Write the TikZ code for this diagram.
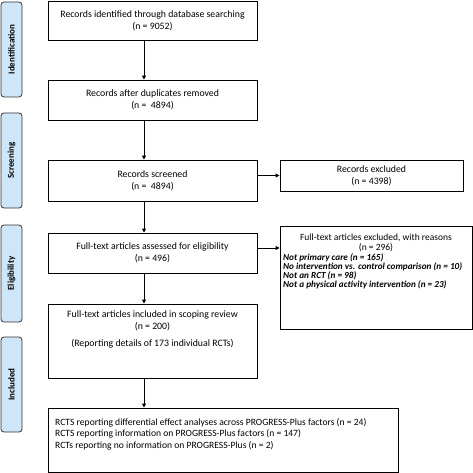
\documentclass[tikz,border=0pt]{standalone}
\usepackage{fontspec}
\setmainfont{Carlito}
\usepackage{tikz}
\usetikzlibrary{arrows.meta}
\pgfdeclarelayer{edgelayer}
\pgfdeclarelayer{nodelayer}
\pgfsetlayers{edgelayer,nodelayer,main}
\definecolor{phasefill}{HTML}{CFE6F8}
\tikzstyle{box}=[rectangle, fill=white, draw=black, line width=0.9pt, inner sep=0pt, align=center, font=\fontsize{9.8}{12}\selectfont]
\tikzstyle{phase}=[rectangle, rounded corners=3pt, fill=phasefill, draw=black!80, line width=0.8pt, rotate=90, minimum height=21pt, inner sep=0pt, font=\bfseries\fontsize{9}{10}\selectfont]
\tikzstyle{plaintext}=[inner sep=0pt, font=\fontsize{9}{12}\selectfont]
\tikzstyle{flow}=[draw=black, line width=0.9pt, -{Triangle[length=4pt,width=4pt]}]

\begin{document}
\begin{tikzpicture}[x=1pt, y=-1pt]
	\useasboundingbox (0,0) rectangle (473,473);
	\begin{pgfonlayer}{nodelayer}

	%phases
		\node [style=phase, minimum width=95pt] (p1) at (11.5,49.5) {Identification};
		\node [style=phase, minimum width=95pt] (p2) at (11.5,160.5) {Screening};
		\node [style=phase, minimum width=97pt] (p3) at (11.5,273.5) {Eligibility};
		\node [style=phase, minimum width=95pt] (p4) at (11.5,384.5) {Included};

	%main column
		\node [style=box, minimum width=209pt, minimum height=39pt] (b1) at (152.5,20.5) {Records identified through database searching\\(n = 9052)};
		\node [style=box, minimum width=209pt, minimum height=40pt] (b2) at (152.5,100) {Records after duplicates removed\\(n =\ \ 4894)};
		\node [style=box, minimum width=209pt, minimum height=41pt] (b3) at (152.5,180.5) {Records screened\\(n =\ \ 4894)};
		\node [style=box, minimum width=209pt, minimum height=40pt] (b4) at (152.5,253) {Full-text articles assessed for eligibility\\(n = 496)};
		\node [style=box, minimum width=209pt, minimum height=74pt] (b5) at (152.5,341) {Full-text articles included in scoping review\\(n = 200)\\[5pt](Reporting details of 173 individual RCTs)\\[12pt]\mbox{}};
		\node [style=box, minimum width=350pt, minimum height=64pt] (b6) at (223,440) {};
		\node [style=plaintext, anchor=north west, align=left, font=\fontsize{9.6}{11.5}\selectfont] (b6text) at (55,418) {RCTS reporting differential effect analyses across PROGRESS-Plus factors (n = 24)\\RCTS reporting information on PROGRESS-Plus factors (n = 147)\\RCTs reporting no information on PROGRESS-Plus (n = 2)};

	%exclusions
		\node [style=box, minimum width=183pt, minimum height=31pt] (r1) at (371.5,175.5) {Records excluded\\(n = 4398)};
		\node [style=box, minimum width=192pt, minimum height=103pt] (r2) at (376,277.5) {};
		\node [style=plaintext, align=center, font=\fontsize{9.5}{10.5}\selectfont] (r2head) at (376,243) {Full-text articles excluded, with reasons\\(n = 296)};
		\node [style=plaintext, anchor=north west, align=left, font=\bfseries\itshape\fontsize{9.2}{9.3}\selectfont] (r2list) at (283,253) {Not primary care (n = 165)\\No intervention vs. control comparison (n = 10)\\Not an RCT (n = 98)\\Not a physical activity intervention (n = 23)};

	\end{pgfonlayer}
	\begin{pgfonlayer}{edgelayer}

	%arrows
		\draw [style=flow] ([xshift=-8.5pt]b1.south) to ([xshift=-8.5pt]b2.north);
		\draw [style=flow] ([xshift=-8.5pt]b2.south) to ([xshift=-8.5pt]b3.north);
		\draw [style=flow] ([xshift=-8.5pt]b3.south) to ([xshift=-8.5pt]b4.north);
		\draw [style=flow] ([xshift=-8.5pt]b4.south) to ([xshift=-8.5pt]b5.north);
		\draw [style=flow] ([xshift=-8.5pt]b5.south) to ([xshift=-8.5pt]b5.south |- b6.north);
		\draw [style=flow] (b3.east |- r1.west) to (r1.west);
		\draw [style=flow] ([yshift=5pt]b4.east) to ([yshift=5pt]b4.east -| r2.west);

	\end{pgfonlayer}
\end{tikzpicture}
\end{document}
